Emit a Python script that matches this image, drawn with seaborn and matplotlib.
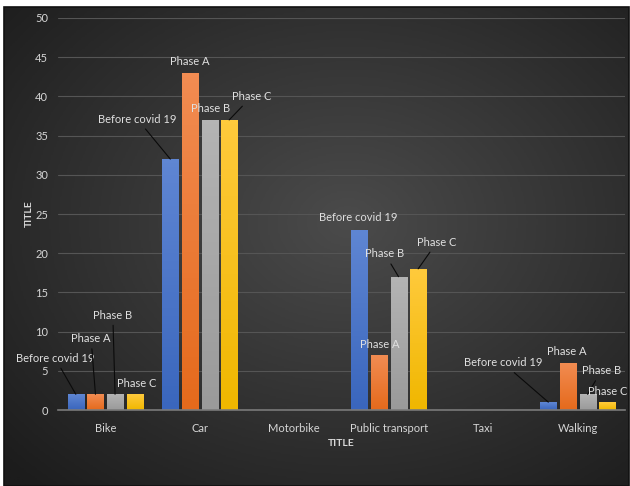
import numpy as np
import pandas as pd
import seaborn as sns
import matplotlib.pyplot as plt
from matplotlib.colors import LinearSegmentedColormap
from matplotlib.patches import Rectangle

categories = ["Bike", "Car", "Motorbike", "Public transport", "Taxi", "Walking"]
series = ["Before covid 19", "Phase A", "Phase B", "Phase C"]
before_covid = [2, 32, 0, 23, 0, 1]
phase_a = [2, 43, 0, 7, 0, 6]
phase_b = [2, 37, 0, 17, 0, 2]
phase_c = [2, 37, 0, 18, 0, 1]
y_ticks = [0, 5, 10, 15, 20, 25, 30, 35, 40, 45, 50]

# series-name labels: (category, series, text x, text y, leader line)
label_spots = [
    (0, 0, -0.53, 6.6, True), (0, 1, -0.15, 9.1, True),
    (0, 2, 0.08, 12.1, True), (0, 3, 0.33, 3.4, False),
    (1, 0, 0.34, 37.1, True), (1, 1, 0.89, 44.4, False),
    (1, 2, 1.11, 38.4, False), (1, 3, 1.55, 40.0, True),
    (3, 0, 2.68, 24.5, False), (3, 1, 2.90, 8.4, False),
    (3, 2, 2.96, 19.9, True), (3, 3, 3.51, 21.4, True),
    (5, 0, 4.21, 6.0, True), (5, 1, 4.88, 7.4, False),
    (5, 2, 5.25, 5.0, True), (5, 3, 5.32, 2.3, False),
]

base_colors = ["#4472C4", "#ED7D31", "#A5A5A5", "#FFC000"]
grad_colors = [("#3a66bd", "#5f86d3"), ("#e56a1c", "#f28c52"),
               ("#9a9a9a", "#b4b4b4"), ("#f0b700", "#ffca3c")]

values = [before_covid, phase_a, phase_b, phase_c]
df = pd.DataFrame({
    "mode": np.tile(categories, len(series)),
    "series": np.repeat(series, len(categories)),
    "value": np.concatenate([np.asarray(v, float) for v in values]),
})

sns.set_theme(style="white")
plt.rcParams["font.family"] = ["Lato", "DejaVu Sans"]

W, H = 630, 486
fig = plt.figure(figsize=(W / 100, H / 100), dpi=100)
fig.patch.set_facecolor("white")

# dark radial-gradient backdrop
bg = fig.add_axes([4 / W, 0, 625 / W, 1 - 7 / H], zorder=-1)
gx, gy = np.meshgrid(np.linspace(0, 1, 400), np.linspace(0, 1, 300))
r = np.sqrt(((gx - 0.55) / 0.75) ** 2 + ((gy - 0.45) / 0.75) ** 2)
bg_cmap = LinearSegmentedColormap.from_list("bg", ["#4b4b4b", "#1c1c1c"])
bg.imshow(np.clip(r, 0, 1), cmap=bg_cmap, aspect="auto", extent=(0, 1, 0, 1),
          origin="upper", vmin=0, vmax=1)
bg.set_axis_off()
bg.add_patch(Rectangle((0, 0), 1, 1, transform=bg.transAxes, fill=False,
                       edgecolor="#111111", lw=1.2, clip_on=False))

ax = fig.add_axes([58 / W, 1 - 410 / H, 567 / W, 392 / H])
ax.set_facecolor("none")
sns.barplot(data=df, x="mode", y="value", hue="series", order=categories,
            hue_order=series, palette=base_colors, width=0.83, gap=0.18,
            saturation=1, legend=False, ax=ax, edgecolor="none")

ax.set_ylim(0, 50)
ax.set_xlim(-0.5, len(categories) - 0.5)

# vertical shading on each bar
bars = {}
for i, s in enumerate(series):
    cont = ax.containers[i]
    for j, p in enumerate(cont.patches):
        bars[(j, i)] = p
        h = p.get_height()
        if h <= 0:
            continue
        x0 = p.get_x()
        cmap = LinearSegmentedColormap.from_list("b", grad_colors[i])
        im = ax.imshow(np.linspace(0, 1, 64).reshape(-1, 1), cmap=cmap,
                       extent=(x0, x0 + p.get_width(), 0, h), origin="lower",
                       aspect="auto", zorder=p.get_zorder() + 0.1)
        im.set_clip_path(p)
ax.set_xlim(-0.5, len(categories) - 0.5)
ax.set_ylim(0, 50)

ax.set_yticks(y_ticks)
ax.yaxis.grid(True, color="#555555", lw=0.8)
ax.set_axisbelow(True)
for side in ["top", "right", "left"]:
    ax.spines[side].set_visible(False)
ax.spines["bottom"].set_color("#7a7a7a")
ax.spines["bottom"].set_linewidth(1.2)
ax.tick_params(axis="both", length=0, colors="#d6d6d6", labelsize=8)
ax.tick_params(axis="y", pad=7)
ax.tick_params(axis="x", pad=9)

ax.set_xlabel("TITLE", fontsize=7.5, fontweight="bold", color="#d9d9d9",
              labelpad=4)
ax.set_ylabel("TITLE", fontsize=7.5, fontweight="bold", color="#d9d9d9",
              labelpad=1)

for cat, si, tx, ty, leader in label_spots:
    p = bars[(cat, si)]
    bx = p.get_x() + p.get_width() / 2
    by = p.get_height()
    arrow = dict(arrowstyle="-", color="#0a0a0a", lw=0.8, shrinkA=1,
                 shrinkB=0) if leader else None
    ax.annotate(series[si], xy=(bx, by), xytext=(tx, ty), ha="center",
                va="center", fontsize=8, color="#e0e0e0", arrowprops=arrow,
                annotation_clip=False, zorder=5)

fig.savefig("out.png", dpi=100)
